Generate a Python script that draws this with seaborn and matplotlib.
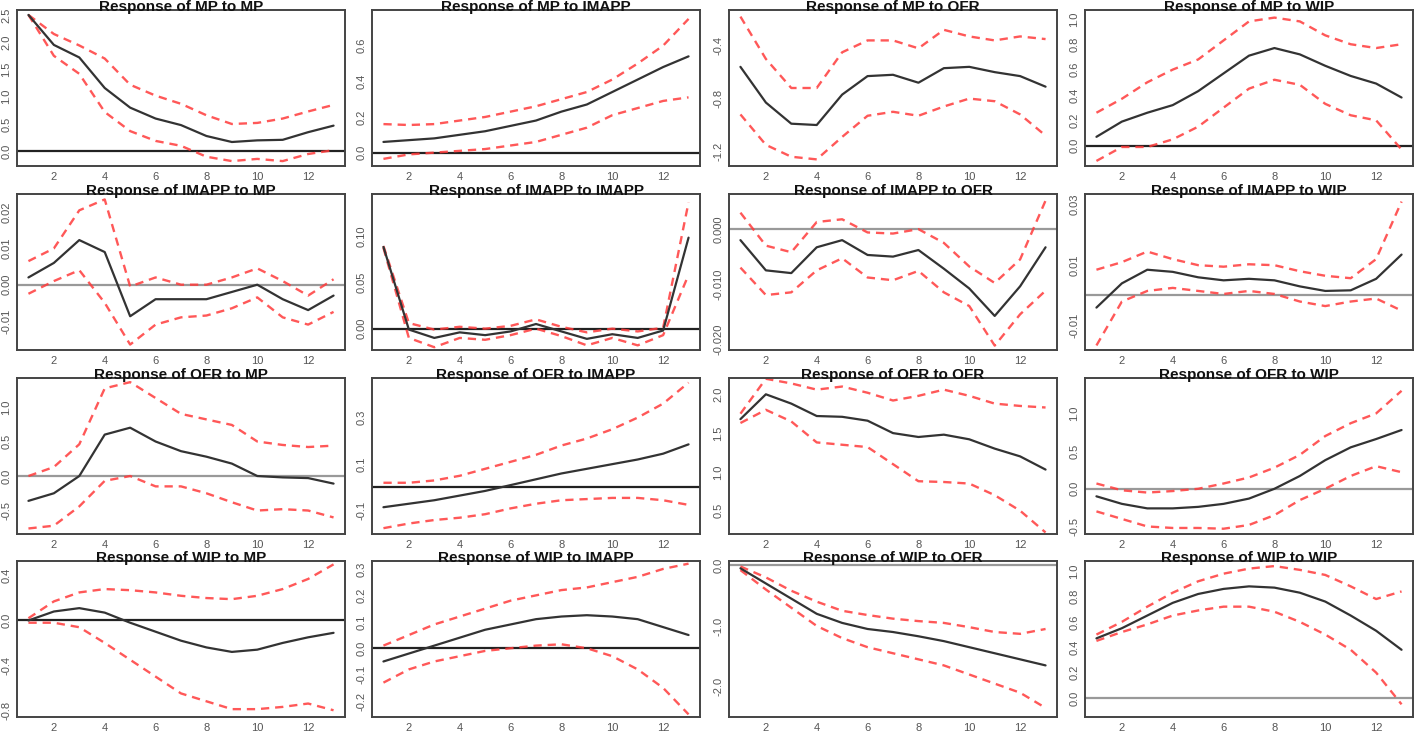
import numpy as np
import pandas as pd
import matplotlib
matplotlib.use("Agg")
import matplotlib.pyplot as plt
import seaborn as sns

horizon = list(range(1, 14))
xticks = [2, 4, 6, 8, 10, 12]

# ---- Row 1: Response of MP ----
mp_mp = [2.5, 1.95, 1.72, 1.16, 0.8, 0.6, 0.48, 0.28, 0.17, 0.2, 0.21, 0.35, 0.47]
mp_mp_hi = [2.5, 2.15, 1.94, 1.7, 1.22, 1.02, 0.87, 0.66, 0.5, 0.52, 0.6, 0.73, 0.85]
mp_mp_lo = [2.5, 1.75, 1.42, 0.72, 0.37, 0.19, 0.1, -0.1, -0.18, -0.14, -0.18, -0.05, 0.02]

mp_imapp = [0.06, 0.07, 0.08, 0.1, 0.12, 0.15, 0.18, 0.23, 0.27, 0.34, 0.41, 0.48, 0.54]
mp_imapp_hi = [0.16, 0.155, 0.16, 0.18, 0.2, 0.23, 0.26, 0.3, 0.34, 0.41, 0.5, 0.6, 0.75]
mp_imapp_lo = [-0.035, -0.01, 0.0, 0.01, 0.02, 0.04, 0.06, 0.1, 0.14, 0.21, 0.25, 0.29, 0.31]

mp_ofr = [-0.56, -0.83, -0.99, -1.0, -0.77, -0.63, -0.62, -0.68, -0.57, -0.56, -0.6, -0.63, -0.71]
mp_ofr_hi = [-0.18, -0.5, -0.72, -0.72, -0.45, -0.36, -0.36, -0.42, -0.28, -0.33, -0.36, -0.33, -0.35]
mp_ofr_lo = [-0.92, -1.15, -1.24, -1.26, -1.09, -0.93, -0.9, -0.93, -0.86, -0.8, -0.82, -0.92, -1.08]

mp_wip = [0.07, 0.19, 0.26, 0.32, 0.43, 0.57, 0.71, 0.77, 0.72, 0.63, 0.55, 0.49, 0.38]
mp_wip_hi = [0.26, 0.37, 0.5, 0.6, 0.68, 0.83, 0.98, 1.01, 0.98, 0.87, 0.8, 0.77, 0.8]
mp_wip_lo = [-0.12, -0.01, -0.01, 0.05, 0.15, 0.3, 0.45, 0.52, 0.48, 0.33, 0.24, 0.2, -0.03]

# ---- Row 2: Response of IMAPP ----
imapp_mp = [0.002, 0.006, 0.0123, 0.009, -0.0087, -0.004, -0.004, -0.004, -0.002, 0.0, -0.004, -0.007, -0.003]
imapp_mp_hi = [0.0065, 0.01, 0.0205, 0.0235, -0.0005, 0.002, 0.0, 0.0, 0.002, 0.0045, 0.001, -0.003, 0.0015]
imapp_mp_lo = [-0.0025, 0.001, 0.004, -0.005, -0.0165, -0.011, -0.009, -0.0085, -0.0065, -0.0035, -0.009, -0.011, -0.0075]

imapp_imapp = [0.088, -0.001, -0.01, -0.004, -0.007, -0.003, 0.005, -0.003, -0.011, -0.006, -0.01, -0.002, 0.098]
imapp_imapp_hi = [0.089, 0.006, -0.001, 0.002, 0.0, 0.003, 0.01, 0.002, -0.004, 0.0, -0.003, 0.001, 0.136]
imapp_imapp_lo = [0.087, -0.01, -0.02, -0.01, -0.012, -0.007, 0.0, -0.008, -0.018, -0.01, -0.018, -0.007, 0.058]

imapp_ofr = [-0.002, -0.0075, -0.008, -0.0033, -0.002, -0.0047, -0.005, -0.0038, -0.0072, -0.0108, -0.0158, -0.0104, -0.0033]
imapp_ofr_hi = [0.003, -0.003, -0.0042, 0.0013, 0.0018, -0.0006, -0.0008, 0.0, -0.0025, -0.0068, -0.0098, -0.0055, 0.0052]
imapp_ofr_lo = [-0.007, -0.012, -0.0115, -0.0075, -0.0053, -0.0088, -0.0093, -0.0076, -0.0115, -0.014, -0.0212, -0.0155, -0.0112]

imapp_wip = [-0.004, 0.004, 0.0085, 0.0078, 0.006, 0.005, 0.0055, 0.005, 0.003, 0.0015, 0.0017, 0.0055, 0.0135]
imapp_wip_hi = [0.0085, 0.011, 0.0145, 0.012, 0.01, 0.0095, 0.0103, 0.01, 0.008, 0.0065, 0.0057, 0.012, 0.031]
imapp_wip_lo = [-0.0165, -0.002, 0.0015, 0.0025, 0.0015, 0.0005, 0.0015, 0.0005, -0.002, -0.0035, -0.002, -0.001, -0.005]

# ---- Row 3: Response of OFR ----
ofr_mp = [-0.36, -0.25, 0.0, 0.6, 0.7, 0.5, 0.36, 0.28, 0.18, 0.0, -0.02, -0.03, -0.11]
ofr_mp_hi = [0.0, 0.13, 0.46, 1.27, 1.36, 1.13, 0.9, 0.82, 0.74, 0.5, 0.45, 0.42, 0.44]
ofr_mp_lo = [-0.76, -0.72, -0.44, -0.07, 0.0, -0.15, -0.15, -0.25, -0.38, -0.5, -0.48, -0.5, -0.6]

ofr_imapp = [-0.085, -0.07, -0.055, -0.035, -0.015, 0.01, 0.035, 0.06, 0.08, 0.1, 0.12, 0.145, 0.185]
ofr_imapp_hi = [0.02, 0.02, 0.03, 0.05, 0.08, 0.11, 0.14, 0.18, 0.21, 0.25, 0.3, 0.36, 0.45]
ofr_imapp_lo = [-0.175, -0.155, -0.14, -0.13, -0.115, -0.09, -0.07, -0.055, -0.05, -0.045, -0.045, -0.055, -0.075]

ofr_ofr = [1.68, 2.0, 1.88, 1.72, 1.71, 1.66, 1.5, 1.45, 1.48, 1.42, 1.3, 1.2, 1.03]
ofr_ofr_hi = [1.75, 2.2, 2.14, 2.06, 2.1, 2.02, 1.92, 1.98, 2.06, 1.98, 1.88, 1.85, 1.83]
ofr_ofr_lo = [1.63, 1.8, 1.65, 1.38, 1.35, 1.32, 1.1, 0.88, 0.87, 0.85, 0.7, 0.5, 0.22]

ofr_wip = [-0.1, -0.2, -0.26, -0.26, -0.24, -0.2, -0.13, 0.0, 0.17, 0.38, 0.55, 0.66, 0.78]
ofr_wip_hi = [0.07, -0.02, -0.05, -0.03, 0.0, 0.07, 0.15, 0.28, 0.45, 0.7, 0.87, 1.0, 1.3]
ofr_wip_lo = [-0.3, -0.4, -0.5, -0.52, -0.52, -0.53, -0.48, -0.35, -0.15, 0.0, 0.17, 0.3, 0.22]

# ---- Row 4: Response of WIP ----
wip_mp = [0.0, 0.08, 0.11, 0.07, -0.02, -0.1, -0.18, -0.24, -0.28, -0.26, -0.2, -0.15, -0.11]
wip_mp_hi = [0.02, 0.17, 0.25, 0.28, 0.27, 0.25, 0.22, 0.2, 0.19, 0.22, 0.28, 0.37, 0.5]
wip_mp_lo = [-0.02, -0.02, -0.06, -0.2, -0.35, -0.5, -0.65, -0.72, -0.79, -0.79, -0.77, -0.74, -0.8]

wip_imapp = [-0.05, -0.02, 0.01, 0.04, 0.07, 0.09, 0.11, 0.12, 0.125, 0.12, 0.11, 0.08, 0.05]
wip_imapp_hi = [0.01, 0.05, 0.09, 0.12, 0.15, 0.18, 0.2, 0.22, 0.23, 0.25, 0.27, 0.3, 0.32]
wip_imapp_lo = [-0.13, -0.08, -0.05, -0.03, -0.01, 0.0, 0.01, 0.015, 0.0, -0.03, -0.08, -0.15, -0.25]

wip_ofr = [-0.05, -0.3, -0.55, -0.8, -0.95, -1.05, -1.1, -1.17, -1.25, -1.35, -1.45, -1.55, -1.65]
wip_ofr_hi = [-0.02, -0.2, -0.42, -0.6, -0.75, -0.82, -0.88, -0.92, -0.95, -1.02, -1.1, -1.13, -1.05]
wip_ofr_lo = [-0.08, -0.4, -0.7, -1.0, -1.2, -1.35, -1.45, -1.55, -1.65, -1.8, -1.95, -2.1, -2.35]

wip_wip = [0.47, 0.55, 0.65, 0.75, 0.82, 0.86, 0.88, 0.87, 0.83, 0.76, 0.65, 0.53, 0.38]
wip_wip_hi = [0.5, 0.6, 0.72, 0.83, 0.92, 0.98, 1.02, 1.04, 1.01, 0.97, 0.88, 0.78, 0.84]
wip_wip_lo = [0.45, 0.52, 0.58, 0.65, 0.69, 0.72, 0.72, 0.68, 0.6, 0.5, 0.38, 0.2, -0.05]

variables = ["MP", "IMAPP", "OFR", "WIP"]

panels = [
    [(mp_mp, mp_mp_lo, mp_mp_hi), (mp_imapp, mp_imapp_lo, mp_imapp_hi),
     (mp_ofr, mp_ofr_lo, mp_ofr_hi), (mp_wip, mp_wip_lo, mp_wip_hi)],
    [(imapp_mp, imapp_mp_lo, imapp_mp_hi), (imapp_imapp, imapp_imapp_lo, imapp_imapp_hi),
     (imapp_ofr, imapp_ofr_lo, imapp_ofr_hi), (imapp_wip, imapp_wip_lo, imapp_wip_hi)],
    [(ofr_mp, ofr_mp_lo, ofr_mp_hi), (ofr_imapp, ofr_imapp_lo, ofr_imapp_hi),
     (ofr_ofr, ofr_ofr_lo, ofr_ofr_hi), (ofr_wip, ofr_wip_lo, ofr_wip_hi)],
    [(wip_mp, wip_mp_lo, wip_mp_hi), (wip_imapp, wip_imapp_lo, wip_imapp_hi),
     (wip_ofr, wip_ofr_lo, wip_ofr_hi), (wip_wip, wip_wip_lo, wip_wip_hi)],
]

yticks = [
    [[0.0, 0.5, 1.0, 1.5, 2.0, 2.5], [0.0, 0.2, 0.4, 0.6], [-1.2, -0.8, -0.4], [0.0, 0.2, 0.4, 0.6, 0.8, 1.0]],
    [[-0.01, 0.0, 0.01, 0.02], [0.0, 0.05, 0.10], [-0.02, -0.01, 0.0], [-0.01, 0.01, 0.03]],
    [[-0.5, 0.0, 0.5, 1.0], [-0.1, 0.1, 0.3], [0.5, 1.0, 1.5, 2.0], [-0.5, 0.0, 0.5, 1.0]],
    [[-0.8, -0.4, 0.0, 0.4], [-0.2, -0.1, 0.0, 0.1, 0.2, 0.3], [-2.0, -1.0, 0.0], [0.0, 0.2, 0.4, 0.6, 0.8, 1.0]],
]
ytick_fmt = [
    ["%.1f", "%.1f", "%.1f", "%.1f"],
    ["%.2f", "%.2f", "%.3f", "%.2f"],
    ["%.1f", "%.1f", "%.1f", "%.1f"],
    ["%.1f", "%.1f", "%.1f", "%.1f"],
]
ylims = [
    [(-0.27, 2.59), (-0.075, 0.80), (-1.31, -0.13), (-0.16, 1.07)],
    [(-0.018, 0.025), (-0.023, 0.145), (-0.022, 0.0064), (-0.018, 0.0335)],
    [(-0.84, 1.42), (-0.20, 0.47), (0.20, 2.21), (-0.60, 1.47)],
    [(-0.86, 0.53), (-0.26, 0.33), (-2.5, 0.07), (-0.15, 1.08)],
]
zero_colors = [
    ["#222222", "#222222", None, "#222222"],
    ["#999999", "#222222", "#999999", "#999999"],
    ["#999999", "#222222", "#222222", "#999999"],
    ["#222222", "#222222", "#999999", "#999999"],
]

sns.set_style("white")
plt.rcParams["font.family"] = ["Liberation Sans", "DejaVu Sans"]

W, H = 1416, 733
fig = plt.figure(figsize=(W / 100, H / 100), dpi=100)

col_left = [17, 372, 729, 1085]
col_w = 328
row_top = [10, 194, 378, 561]
row_h = 156

for r in range(4):
    for c in range(4):
        irf, lo, hi = panels[r][c]
        ax = fig.add_axes([col_left[c] / W, 1 - (row_top[r] + row_h) / H, col_w / W, row_h / H])
        df = pd.DataFrame({"h": horizon, "irf": irf, "lo": lo, "hi": hi})
        zc = zero_colors[r][c]
        if zc is not None:
            ax.axhline(0, color=zc, lw=1.6, zorder=1)
        for col_name in ["lo", "hi"]:
            sns.lineplot(data=df, x="h", y=col_name, ax=ax, color="#ff3b3b", lw=1.7,
                         alpha=0.85, dashes=False, zorder=2)
            ax.lines[-1].set_dashes([3.5, 2.5])
        sns.lineplot(data=df, x="h", y="irf", ax=ax, color="#333333", lw=1.6, zorder=3)
        ax.set_xlim(0.55, 13.45)
        ax.set_ylim(*ylims[r][c])
        ax.set_xticks(xticks)
        ax.set_xticklabels([str(t) for t in xticks], fontsize=8, color="#555555")
        yt = yticks[r][c]
        ax.set_yticks(yt)
        ax.set_yticklabels([ytick_fmt[r][c] % v for v in yt], fontsize=8,
                           color="#555555", rotation=90, va="center")
        ax.tick_params(axis="both", length=2, pad=2, color="#777777")
        ax.set_xlabel("")
        ax.set_ylabel("")
        for s in ax.spines.values():
            s.set_color("#444444")
            s.set_linewidth(1.4)
        ax.annotate(f"Response of {variables[r]} to {variables[c]}", xy=(0.5, 1.0),
                    xycoords="axes fraction", xytext=(0, -3), textcoords="offset points",
                    ha="center", va="bottom", fontsize=11, fontweight="bold", color="#111111")

fig.savefig("out.png", dpi=100)
